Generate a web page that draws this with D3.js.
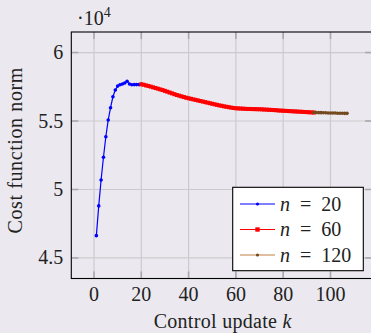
<!DOCTYPE html>
<html>
<head>
<meta charset="utf-8">
<script src="https://cdn.jsdelivr.net/npm/d3@7"></script>
<style>
  html, body { margin: 0; padding: 0; background: #ebe9ef; overflow: hidden; }
  svg { display: block; font-family: "Liberation Serif", "DejaVu Serif", serif; }
</style>
</head>
<body>
<div id="chart"></div>
<script>
// values in units of 10^4
const kN20 = d3.range(1, 21);
const costN20 = [4.663, 4.880, 5.069, 5.235, 5.385, 5.507, 5.597, 5.677, 5.726, 5.755,
                 5.765, 5.770, 5.778, 5.790, 5.770, 5.765, 5.766, 5.766, 5.766, 5.768];

const kN60 = d3.range(20, 94);
const costN60 = [5.768, 5.765, 5.760, 5.756, 5.751, 5.746, 5.741, 5.736, 5.731, 5.726,
                 5.720, 5.714, 5.708, 5.702, 5.696, 5.690, 5.685, 5.680, 5.675, 5.670,
                 5.666, 5.662, 5.658, 5.654, 5.650, 5.646, 5.642, 5.638, 5.634, 5.630,
                 5.626, 5.622, 5.618, 5.614, 5.611, 5.607, 5.604, 5.601, 5.598, 5.595,
                 5.593, 5.592, 5.591, 5.590, 5.589, 5.588, 5.588, 5.587, 5.587, 5.586,
                 5.586, 5.585, 5.584, 5.583, 5.582, 5.581, 5.580, 5.579, 5.577, 5.576,
                 5.575, 5.574, 5.573, 5.572, 5.571, 5.570, 5.569, 5.568, 5.567, 5.566,
                 5.565, 5.564, 5.563, 5.562];

const kN120 = d3.range(93, 108);
const costN120 = [5.562, 5.562, 5.561, 5.561, 5.560, 5.560, 5.559, 5.559, 5.558, 5.558,
                  5.557, 5.557, 5.557, 5.556, 5.556];

const xTicks = [0, 20, 40, 60, 80, 100];
const yTicks = [4.5, 5, 5.5, 6];
const seriesNames = ["20", "60", "120"];

const width = 371, height = 333;
const margin = { top: 32, left: 71.3, plotW: 300.8, plotH: 246.5 };

const svg = d3.select("#chart").append("svg")
  .attr("width", width)
  .attr("height", height);

svg.append("rect").attr("width", width).attr("height", height).attr("fill", "#ebe9ef");

const x = d3.scaleLinear().domain([-9.6, 117.6]).range([margin.left, margin.left + margin.plotW]);
const y = d3.scaleLinear().domain([4.35, 6.15]).range([margin.top + margin.plotH, margin.top]);

const x0 = x.range()[0], x1 = x.range()[1];
const y0 = y.range()[0], y1 = y.range()[1];

// grid
const grid = svg.append("g");
grid.selectAll(".gx").data(xTicks).join("line")
  .attr("x1", d => x(d)).attr("x2", d => x(d))
  .attr("y1", y1).attr("y2", y0)
  .attr("stroke", "#cbcbcd").attr("stroke-width", 1.2);
grid.selectAll(".gy").data(yTicks).join("line")
  .attr("x1", x0).attr("x2", x1)
  .attr("y1", d => y(d)).attr("y2", d => y(d))
  .attr("stroke", "#cbcbcd").attr("stroke-width", 1.2);

// inner tick marks on all four sides
const tl = 7;
const ticks = svg.append("g").attr("stroke", "#a9a9ab").attr("stroke-width", 1.6);
xTicks.forEach(d => {
  ticks.append("line").attr("x1", x(d)).attr("x2", x(d)).attr("y1", y0).attr("y2", y0 - tl);
  ticks.append("line").attr("x1", x(d)).attr("x2", x(d)).attr("y1", y1).attr("y2", y1 + tl);
});
yTicks.forEach(d => {
  ticks.append("line").attr("x1", x0).attr("x2", x0 + tl).attr("y1", y(d)).attr("y2", y(d));
  ticks.append("line").attr("x1", x1).attr("x2", x1 - tl).attr("y1", y(d)).attr("y2", y(d));
});

// data
const line = d3.line().x(d => x(d[0])).y(d => y(d[1]));
const dN20 = kN20.map((k, i) => [k, costN20[i]]);
const dN60 = kN60.map((k, i) => [k, costN60[i]]);
const dN120 = kN120.map((k, i) => [k, costN120[i]]);

const plot = svg.append("g");
plot.append("path").datum(dN20).attr("d", line)
  .attr("fill", "none").attr("stroke", "#0000ff").attr("stroke-width", 1.2);
plot.append("g").selectAll("circle").data(dN20).join("circle")
  .attr("cx", d => x(d[0])).attr("cy", d => y(d[1])).attr("r", 1.8).attr("fill", "#0000ff");

plot.append("path").datum(dN60).attr("d", line)
  .attr("fill", "none").attr("stroke", "#ff0000").attr("stroke-width", 1.2);
plot.append("g").selectAll("rect").data(dN60).join("rect")
  .attr("x", d => x(d[0]) - 2).attr("y", d => y(d[1]) - 2)
  .attr("width", 4).attr("height", 4).attr("fill", "#ff0000");

plot.append("path").datum(dN120).attr("d", line)
  .attr("fill", "none").attr("stroke", "#bf8040").attr("stroke-width", 1.2);
plot.append("g").selectAll("circle").data(dN120).join("circle")
  .attr("cx", d => x(d[0])).attr("cy", d => y(d[1])).attr("r", 1.8).attr("fill", "#75491f");

// frame
svg.append("rect")
  .attr("x", x0).attr("y", y1).attr("width", x1 - x0).attr("height", y0 - y1)
  .attr("fill", "none").attr("stroke", "#000").attr("stroke-width", 1.1);

// tick labels
const fs = 20;
svg.append("g").selectAll("text").data(xTicks).join("text")
  .attr("x", d => x(d)).attr("y", y0 + 22)
  .attr("text-anchor", "middle").attr("font-size", fs).attr("fill", "#222")
  .text(d => d);
svg.append("g").selectAll("text").data(yTicks).join("text")
  .attr("x", x0 - 8).attr("y", d => y(d) + 6.5)
  .attr("text-anchor", "end").attr("font-size", fs).attr("fill", "#222")
  .text(d => d);

// scale label ·10^4
const sc = svg.append("text").attr("x", 77).attr("y", 25).attr("font-size", fs).attr("fill", "#222");
sc.append("tspan").text("\u00b710");
sc.append("tspan").attr("dy", -8).attr("font-size", 14).text("4");

// axis labels
const xl = svg.append("text").attr("x", (x0 + x1) / 2 + 1).attr("y", 328)
  .attr("text-anchor", "middle").attr("font-size", fs).attr("fill", "#222")
  .attr("letter-spacing", 0.3);
xl.append("tspan").text("Control update ");
xl.append("tspan").attr("font-style", "italic").text("k");

svg.append("text")
  .attr("transform", `translate(22,${(y0 + y1) / 2 - 5}) rotate(-90)`)
  .attr("text-anchor", "middle").attr("font-size", fs).attr("fill", "#222")
  .attr("letter-spacing", 0.6)
  .text("Cost function norm");

// legend
const lg = svg.append("g");
lg.append("rect").attr("x", 232.7).attr("y", 187.3).attr("width", 130.6).attr("height", 83.4)
  .attr("fill", "#fff").attr("stroke", "#000").attr("stroke-width", 1.1);
const legColors = [
  { line: "#0000ff", mark: "#0000ff", shape: "c", r: 1.6 },
  { line: "#ff0000", mark: "#ff0000", shape: "s", r: 2.2 },
  { line: "#bf8040", mark: "#75491f", shape: "c", r: 1.6 }
];
seriesNames.forEach((name, i) => {
  const cy = 204 + i * 25.5;
  const c = legColors[i];
  lg.append("line").attr("x1", 240).attr("x2", 275).attr("y1", cy).attr("y2", cy)
    .attr("stroke", c.line).attr("stroke-width", 1.1);
  if (c.shape === "s") {
    lg.append("rect").attr("x", 257.5 - c.r).attr("y", cy - c.r)
      .attr("width", 2 * c.r).attr("height", 2 * c.r).attr("fill", c.mark);
  } else {
    lg.append("circle").attr("cx", 257.5).attr("cy", cy).attr("r", c.r).attr("fill", c.mark);
  }
  const t = lg.append("text").attr("x", 280).attr("y", cy + 6.5).attr("font-size", fs).attr("fill", "#222");
  t.append("tspan").attr("font-style", "italic").text("n");
  t.append("tspan").text("\u2002=\u2002" + name);
});
</script>
</body>
</html>
